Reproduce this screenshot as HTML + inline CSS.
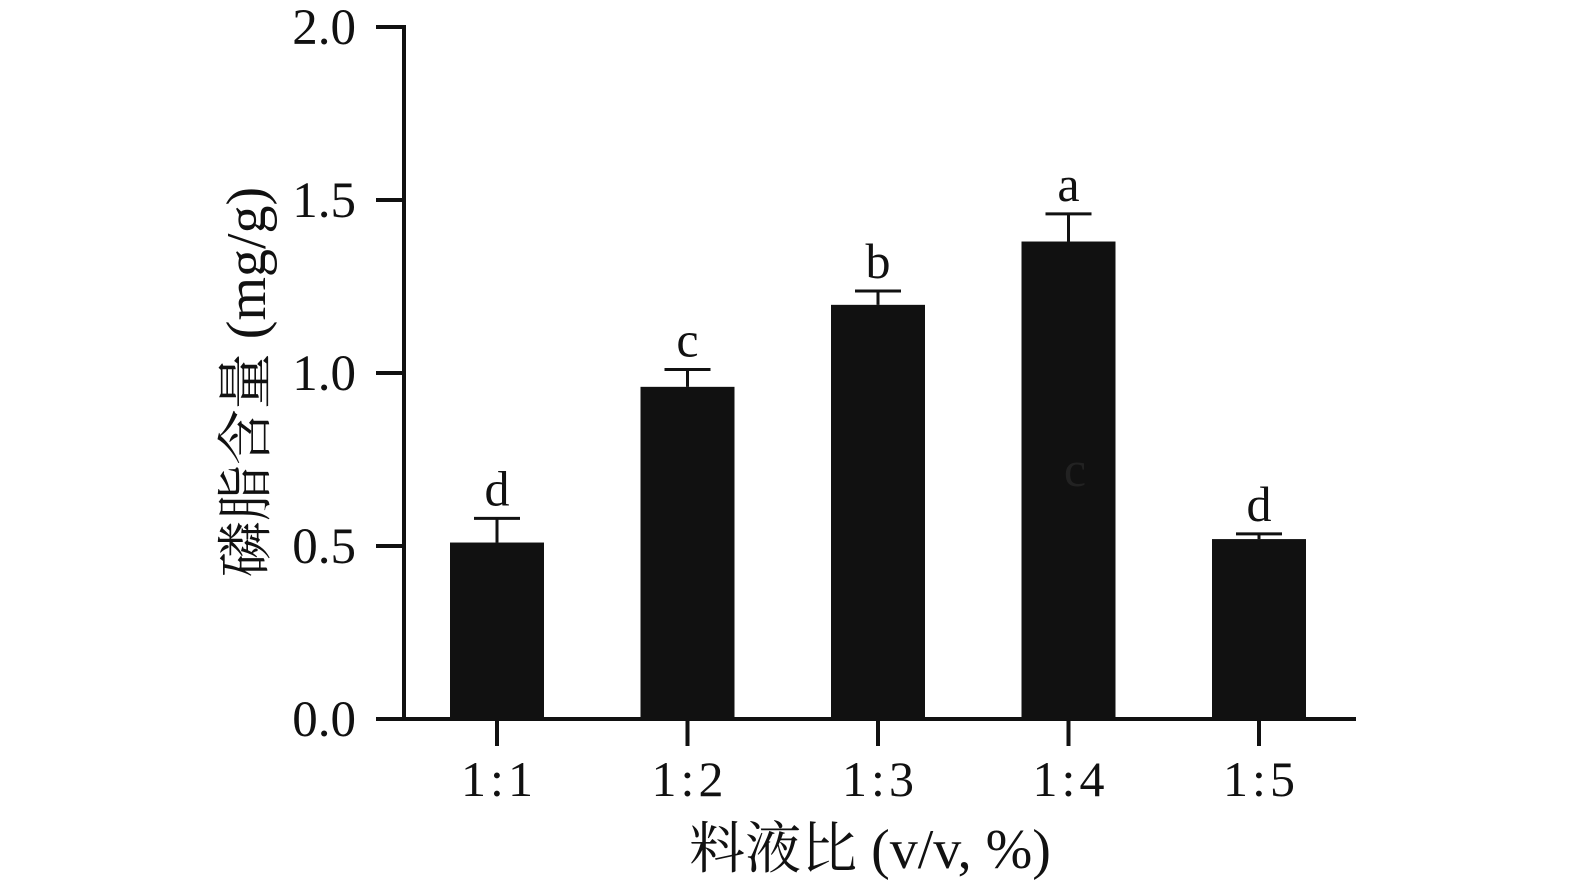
<!DOCTYPE html>
<html><head><meta charset="utf-8"><style>
html,body{margin:0;padding:0;background:#fff;}
svg text{font-family:"Liberation Serif","Noto Serif CJK SC",serif;fill:#111;}
</style></head><body>
<svg id="chart" width="1575" height="886" xmlns="http://www.w3.org/2000/svg">
<g id="axes"></g><g id="bars"></g>
<text transform="translate(265,382) rotate(-90)" text-anchor="middle" font-size="56">磷脂含量 (mg/g)</text>
<text x="870" y="868" text-anchor="middle" font-size="56">料液比 (v/v, %)</text>
<text x="1075" y="486" text-anchor="middle" font-size="50" opacity="0.5" style="fill:#333">c</text>
</svg>
<script>
const categories=["1:1","1:2","1:3","1:4","1:5"];
const values=[0.51,0.96,1.197,1.38,0.52];
const errors=[0.07,0.05,0.04,0.08,0.015];
const letters=["d","c","b","a","d"];
const yTicks=[0,0.5,1.0,1.5,2.0];
const yTickLabels=["0.0","0.5","1.0","1.5","2.0"];
const NS="http://www.w3.org/2000/svg";
const y0=719,yTop=27,yMax=2.0;
function y(v){return y0-(v/yMax)*(y0-yTop);}
function x(i){return 497+i*190.5;}
function mk(t,a,p){const e=document.createElementNS(NS,t);for(const k in a)e.setAttribute(k,a[k]);p.appendChild(e);return e;}
const ax=document.getElementById('axes'),bg=document.getElementById('bars');
const yl=mk('line',{x1:404,y1:y(yMax)-2,x2:404,y2:y0+2,stroke:'#111','stroke-width':4},ax);


const xl=mk('line',{x1:402,y1:y0,x2:1356,y2:y0,stroke:'#111','stroke-width':4},ax);


yTicks.forEach((v,i)=>{
 const t=mk('line',{x1:376,y1:y(v),x2:404,y2:y(v),stroke:'#111','stroke-width':4},ax);
 
 
 const l=mk('text',{x:356,y:y(v)+17,'text-anchor':'end','font-size':51},ax);
 
 
 l.textContent=yTickLabels[i];
});
categories.forEach((c,i)=>{
 const cx=x(i);
 const t=mk('line',{x1:cx,y1:y0,x2:cx,y2:746,stroke:'#111','stroke-width':4},ax);
 
 
 const l=mk('text',{x:cx+2,y:796,'text-anchor':'middle','font-size':50,'letter-spacing':4},ax);
 
 
 l.textContent=c;
 const top=y(values[i]),et=y(values[i]+errors[i]);
 const b=mk('rect',{x:cx-47,y:top,width:94,height:y0-top,fill:'#111'},bg);
 
 
 const e=mk('path',{d:`M${cx},${top} V${et} M${cx-23},${et} H${cx+23}`,stroke:'#111','stroke-width':3,fill:'none'},bg);
 
 
 const s=mk('text',{x:cx,y:et-13,'text-anchor':'middle','font-size':50},bg);
 
 
 s.textContent=letters[i];
});
</script>
</body></html>
